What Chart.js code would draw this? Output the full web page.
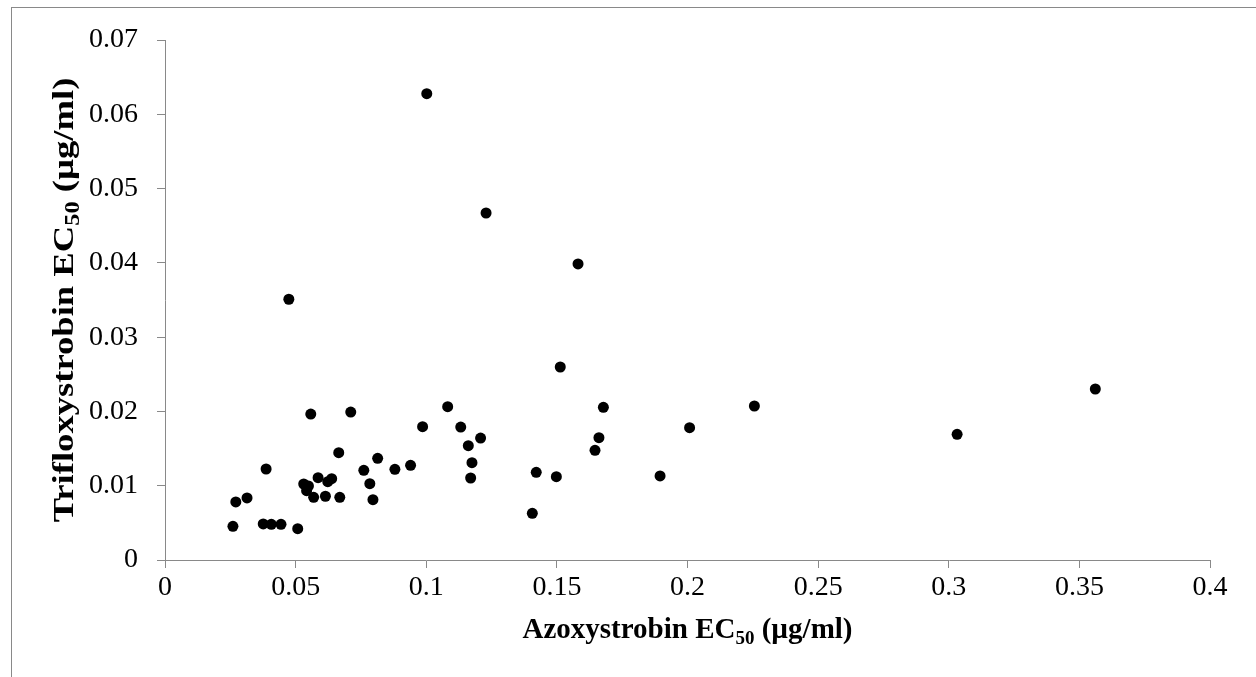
<!DOCTYPE html>
<html>
<head>
<meta charset="utf-8">
<script src="https://cdn.jsdelivr.net/npm/chart.js@4/dist/chart.umd.min.js"></script>
<style>
    body { margin: 0; background: #ffffff; }
    #wrap { width: 1256px; height: 677px; }
</style>
</head>
<body>
<div id="wrap"><canvas id="scatterChart" width="1256" height="677"></canvas></div>
<script>
// EC50 values per isolate (µg/ml)
const azoxystrobinEC50 = [
    0.0558, 0.0711, 0.1082, 0.0986, 0.1132, 0.1208, 0.1161, 0.1175, 0.1170, 0.0665,
    0.0387, 0.0814, 0.0761, 0.0880, 0.0940, 0.0784, 0.0796, 0.0586, 0.0638, 0.0623,
    0.0531, 0.0549, 0.0542, 0.0569, 0.0614, 0.0669, 0.0314, 0.0271, 0.0260, 0.0376,
    0.0407, 0.0444, 0.0508, 0.1421, 0.1498, 0.1406, 0.1678, 0.1661, 0.1646, 0.1895,
    0.2008, 0.1002, 0.1229, 0.1581, 0.0474, 0.1513, 0.2256, 0.3032, 0.3561
];
const trifloxystrobinEC50 = [
    0.01965, 0.01992, 0.02064, 0.01794, 0.01790, 0.01642, 0.01539, 0.01310, 0.01104, 0.01444,
    0.01225, 0.01369, 0.01207, 0.01221, 0.01275, 0.01027, 0.00812, 0.01108, 0.01094, 0.01054,
    0.01023, 0.00996, 0.00933, 0.00844, 0.00858, 0.00844, 0.00835, 0.00781, 0.00454, 0.00485,
    0.00481, 0.00481, 0.00421, 0.01181, 0.01121, 0.00629, 0.02056, 0.01646, 0.01477, 0.01131,
    0.01781, 0.06277, 0.04671, 0.03985, 0.03510, 0.02598, 0.02073, 0.01692, 0.02302
];

const xTickLabels = ['0', '0.05', '0.1', '0.15', '0.2', '0.25', '0.3', '0.35', '0.4'];
const yTickLabels = ['0', '0.01', '0.02', '0.03', '0.04', '0.05', '0.06', '0.07'];

// title pieces: main text, subscript, rest
const xTitleParts = ['Azoxystrobin EC', '50', ' (µg/ml)'];
const yTitleParts = ['Trifloxystrobin EC', '50', ' (µg/ml)'];

const points = azoxystrobinEC50.map((x, i) => ({ x: x, y: trifloxystrobinEC50[i] }));

const axisGray = '#898989';
const serif = '"Liberation Serif", "Times New Roman", serif';

function drawSubscriptTitle(ctx, parts, cx, baseline, size) {
    const bigFont = 'bold ' + size + 'px ' + serif;
    const smallFont = 'bold ' + Math.round(size * 0.65) + 'px ' + serif;
    ctx.font = bigFont;
    const w1 = ctx.measureText(parts[0]).width;
    const w3 = ctx.measureText(parts[2]).width;
    ctx.font = smallFont;
    const w2 = ctx.measureText(parts[1]).width;
    let x = cx - (w1 + w2 + w3) / 2;
    ctx.textAlign = 'left';
    ctx.textBaseline = 'alphabetic';
    ctx.fillStyle = '#000000';
    ctx.font = bigFont;
    ctx.fillText(parts[0], x, baseline);
    x += w1;
    ctx.font = smallFont;
    ctx.fillText(parts[1], x, baseline + size * 0.2);
    x += w2;
    ctx.font = bigFont;
    ctx.fillText(parts[2], x, baseline);
}

const titlesPlugin = {
    id: 'titlesAndFrame',
    beforeDraw(chart) {
        const ctx = chart.ctx;
        ctx.save();
        ctx.fillStyle = '#ffffff';
        ctx.fillRect(0, 0, chart.width, chart.height);
        // outer frame, only top and left edges fall inside the picture
        ctx.strokeStyle = axisGray;
        ctx.lineWidth = 1;
        ctx.strokeRect(11.5, 7.5, 1400, 900);
        ctx.restore();
    },
    afterDraw(chart) {
        const ctx = chart.ctx;
        const area = chart.chartArea;
        ctx.save();
        drawSubscriptTitle(ctx, xTitleParts, (area.left + area.right) / 2, 638, 29);
        ctx.translate(73, (area.top + area.bottom) / 2);
        ctx.rotate(-Math.PI / 2);
        ctx.scale(1.22, 1);
        drawSubscriptTitle(ctx, yTitleParts, 0, 0, 30);
        ctx.restore();
    }
};

new Chart(document.getElementById('scatterChart').getContext('2d'), {
    type: 'scatter',
    data: {
        datasets: [{
            label: 'Isolates',
            data: points,
            backgroundColor: '#000000',
            borderColor: '#000000',
            borderWidth: 0,
            pointRadius: 5.5,
            pointHoverRadius: 5.5
        }]
    },
    options: {
        responsive: false,
        animation: false,
        devicePixelRatio: 1,
        layout: {
            padding: { left: 0, right: 46, top: 40, bottom: 0 }
        },
        plugins: {
            legend: { display: false },
            tooltip: { enabled: false }
        },
        scales: {
            x: {
                type: 'linear',
                min: 0,
                max: 0.4,
                afterFit: (scale) => { scale.height = 117; },
                ticks: {
                    stepSize: 0.05,
                    color: '#000000',
                    padding: 3,
                    font: { family: serif, size: 28 },
                    callback: (value, index) => xTickLabels[index]
                },
                grid: {
                    drawOnChartArea: false,
                    drawTicks: true,
                    tickLength: 8,
                    color: axisGray
                },
                border: { color: axisGray, width: 1 }
            },
            y: {
                type: 'linear',
                min: 0,
                max: 0.07,
                afterFit: (scale) => { scale.width = 165; },
                ticks: {
                    stepSize: 0.01,
                    color: '#000000',
                    padding: 19,
                    font: { family: serif, size: 28 },
                    callback: (value, index) => yTickLabels[index]
                },
                grid: {
                    drawOnChartArea: false,
                    drawTicks: true,
                    tickLength: 8,
                    color: axisGray
                },
                border: { color: axisGray, width: 1 }
            }
        }
    },
    plugins: [titlesPlugin]
});
</script>
</body>
</html>
